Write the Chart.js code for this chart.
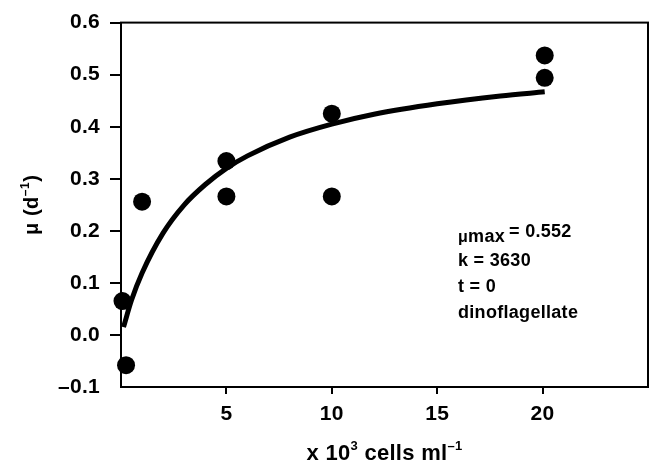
<!DOCTYPE html>
<html>
<head>
<meta charset="utf-8">
<script src="https://cdn.jsdelivr.net/npm/chart.js@4/dist/chart.umd.min.js"></script>
<style>
  html, body { margin: 0; padding: 0; background: #fff; }
  #wrap { width: 657px; height: 463px; }
</style>
</head>
<body>
<div id="wrap"><canvas id="growthChart"></canvas></div>
<script>
// observed growth rates (x in 10^3 cells/ml, y = mu per day)
var obsX = [0.07, 0.24, 1.0, 5.0, 5.0, 10.0, 10.0, 20.1, 20.1];
var obsY = [0.065, -0.058, 0.256, 0.334, 0.266, 0.425, 0.266, 0.537, 0.494];

// fitted curve
var fitX = [0.12, 0.5, 1, 2, 3, 4, 5, 6, 8, 10, 12, 15, 18, 20.1];
var fitY = [0.015, 0.067, 0.119, 0.196, 0.25, 0.289, 0.32, 0.344, 0.38, 0.405, 0.424, 0.444, 0.459, 0.467];

var xTicks = [5, 10, 15, 20];
var yTicks = [-0.1, 0.0, 0.1, 0.2, 0.3, 0.4, 0.5, 0.6];

var annoLines = ['k = 3630', 't = 0', 'dinoflagellate'];
var muMax = '0.552';

var FONT = '"Liberation Sans", Arial, sans-serif';

function toPts(xs, ys) {
	var out = [];
	for (var i = 0; i < xs.length; i++) out.push({ x: xs[i], y: ys[i] });
	return out;
}

// draws a run of [text, size, raise] pieces starting at x
function drawRun(ctx, parts, x, y) {
	for (var p of parts) {
		ctx.font = 'bold ' + p[1] + 'px ' + FONT;
		ctx.fillText(p[0], x, y - (p[2] || 0));
		x += ctx.measureText(p[0]).width;
	}
	return x;
}
function runWidth(ctx, parts) {
	var w = 0;
	for (var p of parts) {
		ctx.font = 'bold ' + p[1] + 'px ' + FONT;
		w += ctx.measureText(p[0]).width;
	}
	return w;
}

var framePlugin = {
	id: 'frame',
	beforeDraw: function(chart) {
		chart.ctx.letterSpacing = '0.3px';
	},
	beforeDatasetsDraw: function(chart) {
		var a = chart.chartArea, ctx = chart.ctx;
		ctx.save();
		ctx.strokeStyle = '#000';
		ctx.lineWidth = 2;
		ctx.strokeRect(a.left, a.top, a.right - a.left, a.bottom - a.top);
		ctx.restore();
	},
	afterDraw: function(chart) {
		var ctx = chart.ctx, a = chart.chartArea;
		ctx.save();
		ctx.fillStyle = '#000';
		ctx.textBaseline = 'alphabetic';
		ctx.textAlign = 'left';

		// x axis title
		ctx.letterSpacing = '0.3px';
		var xt = [['x 10', 22, 0], ['3', 13, 10], [' cells ml', 22, 0], ['\u20131', 13, 10]];
		var cx = (a.left + a.right) / 2;
		drawRun(ctx, xt, cx - runWidth(ctx, xt) / 2, 460);

		// y axis title
		ctx.letterSpacing = '0.5px';
		var yt = [['\u03bc (d', 20, 0], ['\u20131', 12, 9], [')', 20, 0]];
		ctx.translate(38, (a.top + a.bottom) / 2);
		ctx.rotate(-Math.PI / 2);
		drawRun(ctx, yt, -runWidth(ctx, yt) / 2, 0);
		ctx.setTransform(1, 0, 0, 1, 0, 0);

		// fit parameters
		ctx.letterSpacing = '0.3px';
		var x0 = 458;
		var x1 = drawRun(ctx, [['\u03bc', 16, 0], ['max', 18, 0]], x0, 242);
		drawRun(ctx, [['= ' + muMax, 18, 0]], x1 + 4, 237);
		for (var i = 0; i < annoLines.length; i++) {
			drawRun(ctx, [[annoLines[i], 18, 0]], x0, 266 + i * 26);
		}
		ctx.restore();
	}
};

new Chart(document.getElementById('growthChart'), {
	type: 'scatter',
	data: {
		datasets: [{
			label: 'fit',
			data: toPts(fitX, fitY),
			showLine: true,
			borderColor: '#000',
			borderWidth: 5,
			pointRadius: 0,
			cubicInterpolationMode: 'monotone',
			clip: false
		}, {
			label: 'observed',
			data: toPts(obsX, obsY),
			pointRadius: 9,
			pointBackgroundColor: '#000',
			pointBorderWidth: 0,
			clip: false
		}]
	},
	options: {
		responsive: true,
		maintainAspectRatio: false,
		animation: false,
		layout: { padding: { top: 17, right: 8, left: 0, bottom: 0 } },
		plugins: { legend: { display: false }, tooltip: { enabled: false } },
		scales: {
			x: {
				type: 'linear',
				min: 0,
				max: 25,
				afterFit: function(s) { s.height = 76; },
				afterBuildTicks: function(s) {
					s.ticks = [0].concat(xTicks, [25]).map(function(v) { return { value: v }; });
				},
				border: { display: false },
				grid: {
					drawOnChartArea: false,
					tickLength: 7,
					lineWidth: 2,
					color: function(c) {
						return xTicks.indexOf(c.tick && c.tick.value) >= 0 ? '#000' : 'rgba(0,0,0,0)';
					}
				},
				ticks: {
					color: '#000',
					padding: 8,
					maxRotation: 0,
					autoSkip: false,
					font: { family: FONT, size: 21, weight: 'bold' },
					callback: function(v) { return xTicks.indexOf(v) >= 0 ? String(v) : ''; }
				}
			},
			y: {
				min: -0.1,
				max: 0.6,
				afterFit: function(s) { s.width = 121; },
				afterBuildTicks: function(s) {
					s.ticks = yTicks.map(function(v) { return { value: v }; });
				},
				border: { display: false },
				grid: {
					drawOnChartArea: false,
					tickLength: 11,
					lineWidth: 2,
					color: function(c) {
						return (c.tick && c.tick.value > -0.05) ? '#000' : 'rgba(0,0,0,0)';
					}
				},
				ticks: {
					color: '#000',
					padding: 10,
					autoSkip: false,
					font: { family: FONT, size: 21, weight: 'bold' },
					callback: function(v) {
						var r = Math.round(v * 10) / 10;
						return r < 0 ? '\u2013' + Math.abs(r).toFixed(1) : r.toFixed(1);
					}
				}
			}
		}
	},
	plugins: [framePlugin]
});
</script>
</body>
</html>
